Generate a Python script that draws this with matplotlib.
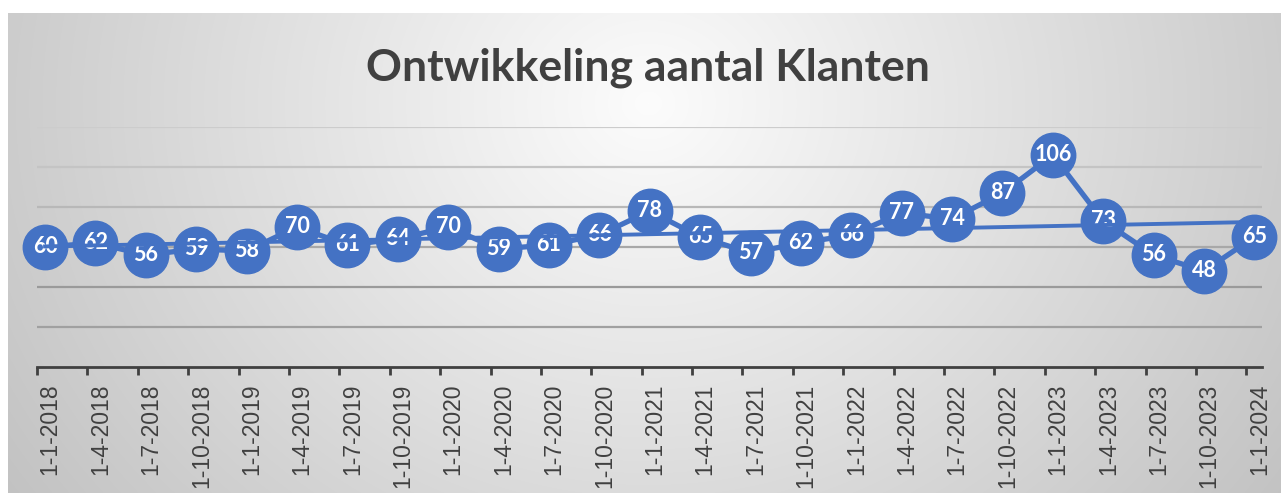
import numpy as np
import matplotlib.pyplot as plt

DATES = ["1-1-2018", "1-4-2018", "1-7-2018", "1-10-2018",
         "1-1-2019", "1-4-2019", "1-7-2019", "1-10-2019",
         "1-1-2020", "1-4-2020", "1-7-2020", "1-10-2020",
         "1-1-2021", "1-4-2021", "1-7-2021", "1-10-2021",
         "1-1-2022", "1-4-2022", "1-7-2022", "1-10-2022",
         "1-1-2023", "1-4-2023", "1-7-2023", "1-10-2023",
         "1-1-2024"]
KLANTEN = [60, 62, 56, 59, 58, 70, 61, 64, 70, 59, 61, 66, 78,
           65, 57, 62, 66, 77, 74, 87, 106, 73, 56, 48, 65]
GRID_VALUES = [20, 40, 60, 80, 100, 120]

TITLE = "Ontwikkeling aantal Klanten"
BLUE = "#4472C4"
DARK = "#404040"

W, H = 1281, 493


def background(fig):
    # radial grey gradient like the Excel chart style
    bg = fig.add_axes([8 / W, 0, 1 - 8 / W, 480 / H], zorder=-10)
    ny, nx = 480, W - 8
    yy, xx = np.mgrid[0:ny, 0:nx]
    cx, cy = 640, 90
    d = np.sqrt(((xx - cx) / 700.0) ** 2 + ((yy - cy) / 620.0) ** 2)
    g = np.clip(252 - 52 * d, 190, 255) / 255.0
    img = np.dstack([g, g, g])
    bg.imshow(img, aspect="auto", interpolation="bilinear")
    bg.axis("off")


def main():
    fig = plt.figure(figsize=(W / 100, H / 100), dpi=100, facecolor="white")
    background(fig)

    ax = fig.add_axes([37 / W, (H - 367) / H, (1262 - 37) / W, (367 - 127) / H])
    ax.set_facecolor("none")

    x = np.arange(len(KLANTEN))
    y = np.array(KLANTEN)

    # gridlines get darker towards the bottom
    grid_cols = ["#a0a0a0", "#9a9a9a", "#a8a8a8", "#b8b8b8", "#c4c4c4", "#cccccc"]
    for v, c in zip(GRID_VALUES, grid_cols):
        ax.axhline(v, color=c, lw=1.6, zorder=1)

    ax.plot(x, y, color=BLUE, lw=3.8, marker="o", ms=32, mfc=BLUE, mec=BLUE,
            zorder=3, clip_on=False)
    for xi, v in zip(x, KLANTEN):
        ax.text(xi, v, str(v), ha="center", va="center", color="white",
                fontweight="bold", fontsize=15.5, family="Lato", zorder=4)

    # linear trendline drawn on top
    k, b = np.polyfit(x, y, 1)
    xt = np.array([x[0], x[-1]])
    ax.plot(xt, k * xt + b, color=BLUE, lw=2.8, zorder=5, clip_on=False)

    ax.set_xlim(-0.16, 24.15)
    ax.set_ylim(0, 120)
    ax.set_yticks([])
    for s in ["left", "right", "top"]:
        ax.spines[s].set_visible(False)
    ax.spines["bottom"].set_color(DARK)
    ax.spines["bottom"].set_linewidth(2)

    ax.set_xticks(x - 0.16, labels=[])
    ax.tick_params(axis="x", which="major", length=6, width=2, color=DARK)
    ax.set_xticks(x + 0.1, labels=DATES, minor=True)
    ax.tick_params(axis="x", which="minor", length=0, pad=12, labelsize=16.5,
                   labelcolor=DARK, labelrotation=90)
    for t in ax.get_xticklabels(minor=True):
        t.set_family("Liberation Sans")

    fig.text(648 / W, 1 - 68 / H, TITLE, ha="center", va="center",
             fontsize=32, fontweight="bold", family="Lato", color=DARK)

    fig.savefig("out.png", dpi=100, facecolor="white")


if __name__ == "__main__":
    main()
